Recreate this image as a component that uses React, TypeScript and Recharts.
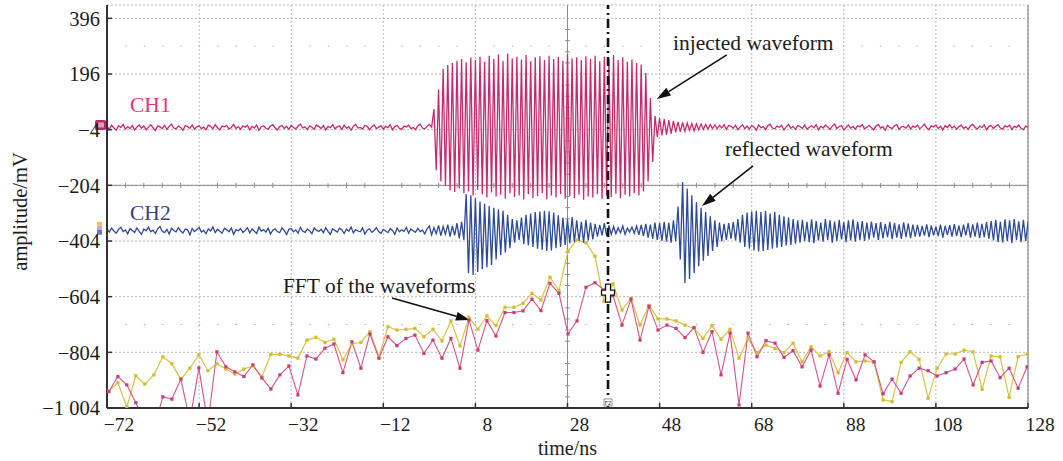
import React from "react";
import {
  LineChart,
  Line,
  XAxis,
  YAxis,
  CartesianGrid,
  ReferenceLine,
  ReferenceDot,
} from "recharts";

// time grid of the scope traces (ns)
const waveStart = -72;
const waveStep = 0.5;

// CH1 (injected), mV
const ch1NoiseBefore = [
  8, -3, 12, 2, -6, 10, 4, 15, -2, 7, 0, 11, -5, 6, 13, 1, 9, -4, 5, 14,
  3, -7, 10, 6, 0, 12, -3, 8, 16, 2, -1, 9, 4, -6, 11, 7, 1, 13, -2, 6,
  10, 0, 5, -4, 12, 8, -1, 14, 3, -5, 9, 6, 11, -2, 4, 15, 0, 7, -3, 10,
  5, 12, -4, 8, 2, 13, -6, 6, 10, 1, -2, 9, 14, 3, -5, 7, 11, 0, 8, -3,
  12, 4, -1, 9, 16, 2, 6, -4, 10, 5, -2, 13, 7, 0, 11, -5, 8, 3, 14, -1,
  6, 10, -3, 12, 1, 7, -6, 9, 15, 2, 4, -2, 11, 8, -4, 6, 13, 0, 5, 10,
  -2, 8, 3, 14, -5, 7, 11, 1, -3, 9, 6, 12, 0, 4, -4, 10, 16, 2, -1, 8, 15, 5,
];
const ch1Burst = [
  70, -150, 140, -190, 215, -205, 228, -222, 236, -228, 244, -215, 250, -232,
  238, -226, 255, -240, 246, -220, 258, -236, 240, -248, 262, -230, 250, -244,
  266, -238, 244, -252, 270, -232, 252, -246, 258, -240, 248, -255, 264, -236,
  242, -250, 256, -242, 260, -232, 246, -254, 262, -240, 250, -248, 258, -236,
  244, -252, 266, -242, 252, -250, 256, -238, 246, -256, 260, -244, 250, -248,
  262, -236, 242, -252, 258, -240, 250, -246, 264, -234, 246, -250, 256, -238,
  240, -244, 248, -232, 236, -240, 230, -226, 200, -190, 110, -120,
];
const ch1Ring = [
  45, -30, 38, -25, 34, -22, 30, -18, 28, -14, 24, -12, 22, -10, 20, -6, 18,
  -8, 17, -4, 16, -3, 15, -2, 14, 0, 13, -1, 12, 2, 14, -3, 11,
];
const ch1NoiseAfter = [
  8, 1, 12, -4, 6, 14, 0, 9, -2, 11, 5, -6, 13, 3, 7, -3, 10, 16, 2, -1,
  9, 4, 12, -5, 6, 15, 1, 8, -3, 11, 7, 0, 13, -2, 5, 10, 3, 14, -4, 8,
  2, 12, 6, -3, 9, 16, 0, 7, 11, -5, 4, 13, 1, 8, -2, 10, 6, 14, -1, 5,
  11, 3, -4, 9, 15, 2, 7, -6, 12, 4, 0, 10, 14, -3, 6, 8, 1, 13, -2, 9,
  5, 12, -1, 7, 16, 3, -4, 10, 6, 13, 0, 8, -5, 11, 4, 14, 2, 9, -2, 7,
  12, 1, 6, -3, 10, 15, 4, -1, 9, 3, 13, -4, 7, 11, 0, 8, 14, 2, -2, 10,
  6, 12, -3, 8, 4, 13, 1, -4, 9, 5,
];

// CH2 (reflected), mV
const ch2NoiseBefore = [
  -360, -372, -358, -368, -376, -362, -355, -370, -364, -378, -359, -366, -373, -357, -369, -380, -361, -367, -354, -371,
  -365, -377, -360, -352, -369, -374, -362, -379, -358, -366, -371, -356, -368, -375, -361, -364, -382, -359, -370, -363,
  -355, -372, -366, -378, -360, -368, -353, -374, -362, -369, -376, -358, -364, -371, -357, -380, -363, -367, -359, -373,
  -366, -356, -375, -361, -369, -377, -354, -368, -363, -372, -358, -379, -365, -360, -370, -374, -357, -366, -381, -362,
  -359, -371, -364, -376, -355, -368, -373, -361, -367, -378, -357, -365, -370, -362, -374, -356, -369, -380, -360, -366,
  -372, -358, -364, -377, -361, -369, -354, -375, -363, -368, -371, -357, -379, -365, -360, -373, -366, -356, -370, -376,
  -362, -368, -374, -359, -366, -380, -357, -371, -364, -369, -355, -376, -361, -367, -373, -358, -370, -365, -378, -360,
  -350, -382, -356, -378, -348, -385, -352, -380, -345, -388, -350, -384,
  -340, -395, -335, -400,
];
const ch2FirstEcho = [
  -235, -520, -240, -526, -250, -515, -262, -505, -270, -498, -278, -490, -285, -470,
  -290, -455, -295, -445, -310, -430, -325, -410, -330, -400, -320, -415, -310, -420,
];
const ch2Between = [
  -305, -425, -300, -432, -298, -436, -295, -440, -297, -438, -302, -430, -312, -425,
  -320, -418, -326, -412, -318, -408, -330, -405, -335, -410, -328, -402, -338, -398,
  -342, -388, -346, -384, -340, -386, -348, -380,
  -352, -378, -356, -374, -350, -380, -358, -372, -354, -376, -350, -382,
  -346, -386, -342, -392, -345, -396, -338, -400, -340, -404, -335, -406, -338, -410, -330, -405,
];
const ch2Reflection = [
  -280, -470, -192, -555, -215, -540, -240, -520, -265, -495, -285, -475, -300, -458,
  -315, -440, -330, -425,
];
const ch2Tail = [
  -338, -405, -342, -400, -340, -396, -335, -402, -325, -410,
  -310, -425, -302, -432, -298, -438, -295, -442, -300, -440, -296, -436, -305, -432,
  -300, -428, -310, -425, -315, -420, -320, -418, -325, -414,
  -330, -410, -328, -405, -335, -408, -326, -412, -332, -402, -338, -406, -325, -400,
  -330, -410, -334, -404, -328, -398, -336, -408, -330, -402, -326, -406, -335, -400, -332, -404,
  -338, -398, -334, -392, -340, -400, -336, -395, -342, -390, -335, -397, -339, -392,
  -344, -396, -337, -390, -341, -394, -345, -388,
  -346, -388, -350, -385, -344, -390, -348, -384, -352, -386, -345, -392, -350, -382,
  -347, -388, -343, -386, -349, -390, -345, -384, -340, -392, -344, -388, -338, -394,
  -342, -390, -336, -396,
  -332, -402, -328, -408, -335, -410, -326, -405, -330, -412, -325, -400, -333, -408, -328, -404, -335,
];

// FFT of the waveforms (markers), plotted on the same mV scale
const fftStart = -71.6;
const fftStep = 1.955;
const fftReflected = [
  -945, -891, -921, -985, -1060, -1075, -964, -972, -900, -1050,
  -860, -1060, -802, -856, -874, -891, -849, -896, -936, -885,
  -853, -957, -817, -828, -789, -774, -877, -766, -861, -738,
  -825, -748, -780, -754, -742, -808, -760, -825, -754, -861,
  -688, -796, -690, -745, -661, -661, -655, -613, -654, -556,
  -592, -738, -691, -570, -554, -580, -600, -706, -613, -760,
  -639, -724, -706, -718, -751, -715, -804, -730, -885, -735,
  -993, -735, -820, -762, -771, -822, -798, -856, -796, -925,
  -813, -951, -829, -903, -813, -838, -953, -900, -951, -889,
  -861, -870, -889, -877, -864, -828, -921, -840, -835, -895,
  -861, -933, -856,
];
const fftInjected = [
  -943, -913, -1000, -888, -918, -885, -820, -845, -901, -861,
  -813, -870, -845, -864, -882, -864, -853, -891, -811, -811,
  -817, -825, -760, -750, -768, -757, -831, -774, -768, -730,
  -820, -712, -724, -721, -718, -748, -721, -763, -691, -781,
  -678, -721, -673, -708, -642, -642, -628, -592, -616, -534,
  -582, -440, -400, -410, -459, -621, -558, -652, -610, -706,
  -635, -684, -684, -691, -706, -718, -754, -708, -757, -721,
  -825, -754, -805, -778, -790, -805, -771, -838, -784, -817,
  -802, -877, -805, -838, -835, -840, -975, -981, -840, -802,
  -829, -969, -861, -810, -810, -796, -802, -937, -817, -820,
  -966, -820, -810,
];

const xTicks = [-72, -52, -32, -12, 8, 28, 48, 68, 88, 108, 128];
const xTickLabels = ["−72", "−52", "−32", "−12", "8", "28", "48", "68", "88", "108", "128"];
const yTicks = [396, 196, -4, -204, -404, -604, -804, -1004];
const yTickLabels = ["396", "196", "−4", "−204", "−404", "−604", "−804", "−1 004"];

const cursorTime = 36.8;
const cursorLevel = -591;

const ch1Values = [...ch1NoiseBefore, ...ch1Burst, ...ch1Ring, ...ch1NoiseAfter];
const ch2Values = [...ch2NoiseBefore, ...ch2FirstEcho, ...ch2Between, ...ch2Reflection, ...ch2Tail];

const ch1Data = ch1Values.map((v, i) => ({ t: waveStart + i * waveStep, v }));
const ch2Data = ch2Values.map((v, i) => ({ t: waveStart + i * waveStep, v }));
const fftInjData = fftInjected.map((v, i) => ({ t: fftStart + i * fftStep, v }));
const fftRefData = fftReflected.map((v, i) => ({ t: fftStart + i * fftStep, v }));

const minorTimes = Array.from({ length: 51 }, (_, i) => -72 + i * 4).filter((t) => (t + 72) % 20 !== 0);
const minorLevels = Array.from({ length: 36 }, (_, i) => -1004 + i * 40).filter((v) => (v + 1004) % 200 !== 0);

const FONT = '"Liberation Serif", "Times New Roman", Times, serif';
const INK = "#1c1c1c";

const XTick = ({ x, y, payload }: any) => {
  const idx = xTicks.indexOf(payload.value);
  return (
    <g>
      <line x1={x} y1={y} x2={x} y2={y - 5} stroke="#333" strokeWidth={1.5} />
      <text x={x + 12} y={y + 23} textAnchor="middle" fontFamily={FONT} fontSize={19.5} fill={INK}>
        {xTickLabels[idx]}
      </text>
    </g>
  );
};

const YTick = ({ x, y, payload }: any) => {
  const idx = yTicks.indexOf(payload.value);
  return (
    <g>
      <line x1={x} y1={y} x2={x + 5} y2={y} stroke="#333" strokeWidth={1.5} />
      <text x={x - 7} y={y} dy="0.35em" textAnchor="end" fontFamily={FONT} fontSize={20.5} fill={INK}>
        {yTickLabels[idx]}
      </text>
    </g>
  );
};

const Arrow = ({ x1, y1, x2, y2 }: any) => {
  const a = Math.atan2(y2 - y1, x2 - x1);
  const len = 14;
  const w = 4.5;
  const bx = x2 - len * Math.cos(a);
  const by = y2 - len * Math.sin(a);
  const px = -Math.sin(a) * w;
  const py = Math.cos(a) * w;
  return (
    <g>
      <line x1={x1} y1={y1} x2={bx} y2={by} stroke="#111" strokeWidth={1.6} />
      <polygon points={`${x2},${y2} ${bx + px},${by + py} ${bx - px},${by - py}`} fill="#111" />
    </g>
  );
};

const label = (text: string, color: string) => ({ cx, cy }: any) => (
  <text x={cx} y={cy} fontFamily={FONT} fontSize={21.5} fill={color}>
    {text}
  </text>
);

const Square = (color: string) => ({ cx, cy, index }: any) => (
  <rect key={index} x={cx - 1.6} y={cy - 1.6} width={3.2} height={3.2} fill={color} />
);

const CrossMark = ({ cx, cy }: any) => (
  <path
    d={`M${cx - 2.5},${cy - 9} h5 v6 h4 v5 h-4 v7 h-5 v-7 h-4 v-5 h4 z`}
    fill="#fff"
    stroke="#111"
    strokeWidth={1.3}
  />
);

const CursorTag = ({ cx, cy }: any) => (
  <g>
    <rect x={cx - 4} y={cy - 9} width={8} height={7} fill="#fff" stroke="#555" strokeWidth={0.6} />
    <text x={cx} y={cy - 3.2} textAnchor="middle" fontFamily="DejaVu Sans, sans-serif" fontSize={5.5} fill="#222">
      F2
    </text>
  </g>
);

const Ch1Marker = ({ cx, cy }: any) => (
  <g>
    <rect x={cx - 12} y={cy - 5} width={11} height={10} rx={1.5} fill="#b8296a" />
    <rect x={cx - 9} y={cy - 2.5} width={6} height={5} fill="#e89ab8" />
  </g>
);

const Ch2Marker = ({ cx, cy }: any) => (
  <g>
    <rect x={cx - 10} y={cy - 7} width={5} height={4} fill="#e8c25a" />
    <rect x={cx - 10} y={cy - 3} width={5} height={4} fill="#d9a0c0" />
    <rect x={cx - 10} y={cy + 1} width={5} height={5} fill="#6b74b8" />
  </g>
);

const YTitle = ({ viewBox }: any) => {
  const cx = viewBox.x + 20;
  const cy = viewBox.y + viewBox.height / 2 + 5;
  return (
    <text x={cx} y={cy} transform={`rotate(-90 ${cx} ${cy})`} textAnchor="middle" dominantBaseline="central" fontFamily={FONT} fontSize={20.5} fill={INK}>
      amplitude/mV
    </text>
  );
};

const XTitle = ({ viewBox }: any) => (
  <text x={viewBox.x + viewBox.width / 2} y={viewBox.y + 47} textAnchor="middle" fontFamily={FONT} fontSize={20} fill={INK}>
    time/ns
  </text>
);

export default function App() {
  return (
    <div style={{ position: "absolute", left: 0, top: 0, background: "#fff" }}>
      <LineChart width={1063} height={461} margin={{ top: 5, right: 35, bottom: 0, left: 0 }}>
        <CartesianGrid stroke="#b8b8b8" strokeDasharray="2 2" />
        <XAxis
          type="number"
          dataKey="t"
          domain={[-72, 128]}
          ticks={xTicks}
          interval={0}
          height={53}
          tickSize={0}
          tickMargin={0}
          tick={<XTick />}
          axisLine={{ stroke: "#333", strokeWidth: 2 }}
          label={<XTitle />}
          allowDataOverflow
        />
        <YAxis
          type="number"
          domain={[-1004, 444]}
          ticks={yTicks}
          interval={0}
          width={107}
          tickSize={0}
          tickMargin={0}
          tick={<YTick />}
          axisLine={{ stroke: "#333", strokeWidth: 2 }}
          label={<YTitle />}
          allowDataOverflow
        />

        <ReferenceLine x={128} stroke="#9a9a9a" strokeWidth={1.5} />
        <ReferenceLine y={-204} stroke="#8c8c8c" strokeWidth={1} />
        <ReferenceLine x={28} stroke="#8c8c8c" strokeWidth={1} />
        <ReferenceLine y={296} stroke="#a0a0a0" strokeDasharray="1.2 17.2" />
        <ReferenceLine y={-704} stroke="#a0a0a0" strokeDasharray="1.2 17.2" />
        {minorTimes.map((t) => (
          <ReferenceLine key={`mt${t}`} segment={[{ x: t, y: -213 }, { x: t, y: -195 }]} stroke="#8c8c8c" />
        ))}
        {minorLevels.map((v) => (
          <ReferenceLine key={`mv${v}`} segment={[{ x: 27.5, y: v }, { x: 28.5, y: v }]} stroke="#8c8c8c" />
        ))}

        <Line data={fftInjData} dataKey="v" stroke="#d9c345" strokeWidth={1.2} dot={Square("#d4bb30")} activeDot={false} isAnimationActive={false} />
        <Line data={fftRefData} dataKey="v" stroke="#d2558a" strokeWidth={1.1} dot={Square("#c93c78")} activeDot={false} isAnimationActive={false} />
        <Line data={ch2Data} dataKey="v" stroke="#2d4a96" strokeWidth={1.3} dot={false} activeDot={false} isAnimationActive={false} />
        <Line data={ch1Data} dataKey="v" stroke="#c42b6e" strokeWidth={1.3} dot={false} activeDot={false} isAnimationActive={false} />

        <ReferenceLine x={cursorTime} stroke="#111" strokeWidth={2.6} strokeDasharray="9 4 2 4" />
        <ReferenceDot x={cursorTime} y={cursorLevel} r={0} ifOverflow="visible" shape={CrossMark} />
        <ReferenceDot x={cursorTime} y={-1004} r={0} ifOverflow="visible" shape={CursorTag} />

        <ReferenceDot x={-72} y={13} r={0} ifOverflow="visible" shape={Ch1Marker} />
        <ReferenceDot x={-72} y={-360} r={0} ifOverflow="visible" shape={Ch2Marker} />

        <ReferenceDot x={-67} y={60} r={0} ifOverflow="visible" shape={label("CH1", "#e0337c")} />
        <ReferenceDot x={-67} y={-328} r={0} ifOverflow="visible" shape={label("CH2", "#3a3f7c")} />
        <ReferenceDot x={50.9} y={283} r={0} ifOverflow="visible" shape={label("injected waveform", INK)} />
        <ReferenceDot x={62.2} y={-98} r={0} ifOverflow="visible" shape={label("reflected waveform", INK)} />
        <ReferenceDot x={-33.8} y={-591} r={0} ifOverflow="visible" shape={label("FFT of the waveforms", INK)} />

        <ReferenceLine segment={[{ x: 62.6, y: 265 }, { x: 47.4, y: 106 }]} ifOverflow="visible" shape={Arrow} />
        <ReferenceLine segment={[{ x: 68.3, y: -134 }, { x: 57.2, y: -278 }]} ifOverflow="visible" shape={Arrow} />
        <ReferenceLine segment={[{ x: -10.1, y: -609 }, { x: 6.8, y: -688 }]} ifOverflow="visible" shape={Arrow} />
      </LineChart>
    </div>
  );
}
